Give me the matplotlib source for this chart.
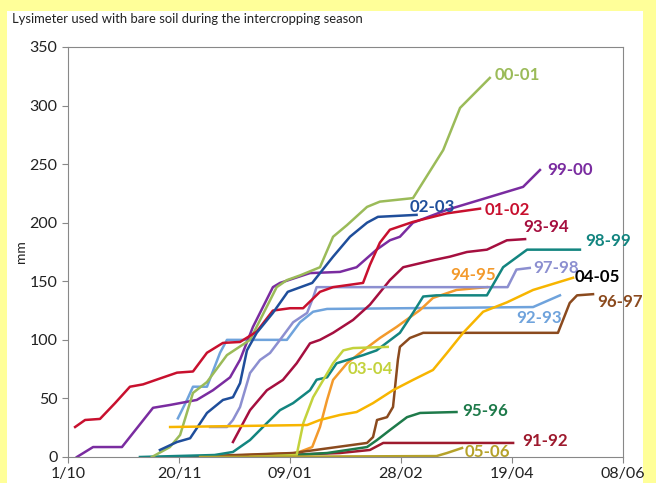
import matplotlib.pyplot as plt
from matplotlib.patches import Rectangle

# days counted from 1 October, cumulative drainage in mm
seasons = ["91-92", "92-93", "93-94", "94-95", "95-96", "96-97", "97-98",
           "98-99", "99-00", "00-01", "01-02", "02-03", "03-04", "04-05", "05-06"]

days_9192 = [73, 122.5, 136, 142, 200.5]
mm_9192 = [0, 3.4, 6, 12, 12]

days_9293 = [49.5, 53.6, 56.3, 62.6, 68.5, 71.6, 98.6, 104.5, 110.4, 116.7, 209.5, 221.6]
mm_9293 = [33, 48.7, 60, 60, 89, 100, 100, 115, 124, 126.4, 128, 138]

days_9394 = [74.3, 82, 89.6, 96.8, 103, 109, 113.5, 119.4, 128.4, 136, 145, 151,
             164.4, 172, 179.7, 188.7, 197.7, 205.9]
mm_9394 = [12.8, 40, 57, 65.8, 80, 97, 100, 106, 117, 130, 151, 162,
           168, 171, 175, 177, 185, 186]

days_9495 = [59.5, 103, 110, 113.5, 116.7, 119.4, 125.7, 133, 140.5, 148, 158.6,
             164.4, 175, 188.7]
mm_9495 = [0, 3.4, 8.5, 25.6, 48.7, 65.8, 80, 91, 101.6, 111, 125.5,
           135.8, 142.6, 145]

days_9596 = [86.5, 116.7, 134.7, 139.2, 145, 152.7, 158.6, 175]
mm_9596 = [0, 3.4, 8.5, 14.5, 23, 34, 37.6, 38.4]

days_9697 = [50.5, 101.4, 134.7, 137.4, 139.2, 143.7, 146.4, 148.6, 149.5, 154,
             160, 220.7, 226, 229.3, 236.5]
mm_9697 = [0, 3.4, 12, 17, 31.6, 34, 42.7, 83, 94, 101.6,
           106, 106, 131.5, 138, 139]

days_9798 = [64, 71.6, 74.3, 77.5, 82, 86.5, 91, 95.5, 101.4, 107.7, 110.4, 112,
             198, 202, 208]
mm_9798 = [25.6, 25.6, 31.6, 42.7, 71.7, 82.8, 88.8, 100, 115, 123, 136, 145,
           145, 160, 161.4]

days_9899 = [32.4, 66, 74.3, 82, 89.6, 95.5, 101.4, 109, 112, 116.7, 121, 133,
             139, 149.5, 155.4, 160, 166, 188.7, 196, 206.8, 230.6]
mm_9899 = [0, 1.7, 4.3, 14.5, 29, 40, 46, 57, 66, 68, 80, 87,
           91, 106, 123, 137, 138, 138, 162, 177, 177]

days_9900 = [4, 11.3, 24.3, 38.3, 45.9, 58, 65.3, 73, 77.5, 83.3, 92.3, 95.5,
             109, 122.5, 130, 139, 145, 149.5, 155.4, 170.7, 185.6, 205, 212.6]
mm_9900 = [0, 8.5, 8.5, 42, 44.4, 48.7, 57, 68, 83, 111, 145, 148.6,
           157, 158, 162, 177, 185, 188, 200, 211, 219.5, 230.6, 245]

days_0001 = [37.8, 45.9, 50.5, 56.3, 62.6, 71.6, 82, 94, 98.6, 104.5, 113.5,
             119.4, 125.7, 134.7, 140.5, 155.4, 169, 176.6, 190]
mm_0001 = [0, 8.5, 18.8, 54.7, 64, 87, 100, 145, 151, 155, 162,
           188, 198, 213.5, 218, 221, 262, 298, 323.6]

days_0102 = [3.2, 7.7, 14.4, 21.2, 27.9, 33.8, 41.4, 49.1, 56.3, 62.6, 69.8, 77.5,
             85, 92.3, 100, 105.9, 113.5, 119.4, 132.9, 136, 140.5, 145, 155.4,
             170.7, 185.6]
mm_0102 = [25.6, 31.6, 32.5, 46, 60, 62, 67, 72, 73, 89, 97.4, 98.2,
           107, 125, 127, 127, 141, 145, 148.6, 164, 183, 194, 200.7,
           208, 212]

days_0203 = [41.4, 49.1, 55, 62.6, 69.8, 74.3, 77.5, 80.6, 85, 92.3, 99, 110,
             119.4, 127, 134.7, 139.6, 157]
mm_0203 = [6, 12.8, 16, 37.6, 48.7, 51, 63, 91, 106, 123, 141, 148.6,
           171, 188, 200, 205, 206.7]

days_0304 = [82, 103, 106, 110.4, 115, 119.4, 124, 128.4, 144]
mm_0304 = [0, 1.7, 29, 51, 65.8, 80, 91, 93, 94]

days_0405 = [46, 107.7, 113.5, 122.5, 130, 137.4, 146.4, 155.4, 164.4, 170.7,
             178, 187, 197.7, 209.5, 227.5]
mm_0405 = [25.6, 27.3, 31.6, 35.9, 38.4, 46, 57, 65.8, 74.3, 88.8,
           106, 124, 132, 142.6, 153]

days_0506 = [59.5, 166, 170.7, 177.5]
mm_0506 = [0, 0.8, 3.4, 7.7]

# label anchor (day, mm) for each season
label_pos = {
    "00-01": (192.3, 326), "99-00": (215.8, 245), "02-03": (154, 213),
    "01-02": (187.8, 211), "93-94": (205, 196), "98-99": (232.9, 184.5),
    "97-98": (209.5, 161.4), "04-05": (228.4, 153.7), "96-97": (238.3, 132),
    "94-95": (172, 155), "92-93": (202, 118.7), "03-04": (126, 75),
    "95-96": (177.5, 39), "91-92": (204.5, 13.7), "05-06": (178.8, 4),
}

colours = {
    "91-92": "#9e1a2e", "92-93": "#6fa3dc", "93-94": "#a50f3f", "94-95": "#f39a2c",
    "95-96": "#1e7a4a", "96-97": "#8b4a1e", "97-98": "#8c8fd0", "98-99": "#138580",
    "99-00": "#7a2ca0", "00-01": "#9bbb59", "01-02": "#c8102e", "02-03": "#1f4e9b",
    "03-04": "#c3d23c", "04-05": "#f7b500", "05-06": "#b5a22a",
}
label_colours = dict(colours)
label_colours["04-05"] = "black"

series = {
    "91-92": (days_9192, mm_9192), "92-93": (days_9293, mm_9293),
    "93-94": (days_9394, mm_9394), "94-95": (days_9495, mm_9495),
    "95-96": (days_9596, mm_9596), "96-97": (days_9697, mm_9697),
    "97-98": (days_9798, mm_9798), "98-99": (days_9899, mm_9899),
    "99-00": (days_9900, mm_9900), "00-01": (days_0001, mm_0001),
    "01-02": (days_0102, mm_0102), "02-03": (days_0203, mm_0203),
    "03-04": (days_0304, mm_0304), "04-05": (days_0405, mm_0405),
    "05-06": (days_0506, mm_0506),
}

x_ticks = [0, 50, 100, 150, 200, 250]
x_labels = ["1/10", "20/11", "09/01", "28/02", "19/04", "08/06"]

plt.rcParams['font.family'] = ['Lato', 'DejaVu Sans']

fig = plt.figure(figsize=(6.56, 4.83), dpi=100, facecolor="#ffff99")
# white panel behind the chart
fig.patches.append(Rectangle((7 / 656, 0), 636 / 656, 472 / 483,
                             transform=fig.transFigure, facecolor="white",
                             edgecolor="none", zorder=-10))
ax = fig.add_axes([68 / 656, 26 / 483, 555 / 656, 410 / 483])
ax.set_facecolor("white")

for s in seasons:
    d, v = series[s]
    ax.plot(d, v, color=colours[s], linewidth=1.8, solid_joinstyle="round")
    lx, ly = label_pos[s]
    ax.text(lx, ly, s, color=label_colours[s], fontsize=12.2, fontweight="bold",
            va="center", ha="left")

ax.set_xlim(0, 250)
ax.set_ylim(0, 350)
ax.set_xticks(x_ticks)
ax.set_xticklabels(x_labels)
ax.set_yticks(range(0, 351, 50))
ax.tick_params(colors="#888888", labelcolor="#222222", labelsize=11.5, length=4)
for sp in ax.spines.values():
    sp.set_color("#888888")
ax.set_ylabel("mm", fontsize=10, color="#222222", labelpad=2)

fig.text(12 / 656, 1 - 19 / 483, "Lysimeter used with bare soil during the intercropping season",
         fontsize=9.4, color="#222222", va="center", ha="left")

fig.savefig("out.png", dpi=100, facecolor=fig.get_facecolor())
